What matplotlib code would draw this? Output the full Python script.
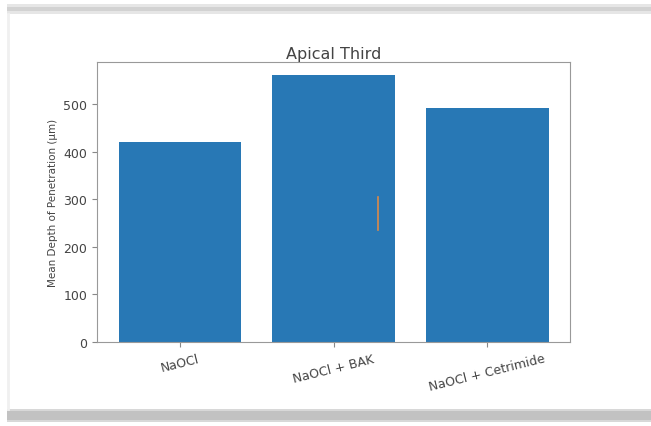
import matplotlib.pyplot as plt
from matplotlib.patches import Rectangle
from matplotlib.lines import Line2D

groups = ["NaOCl", "NaOCl + BAK", "NaOCl + Cetrimide"]
depth = [420, 561, 492]
# stray orange segment drawn over the middle bar
seg_x = [1.29, 1.29]
seg_y = [235, 306]

W, H = 651, 427
fig = plt.figure(figsize=(W/100, H/100), dpi=100)

def band(y0, y1, color):
    # y in pixels from the top
    fig.add_artist(Rectangle((7/W, 1 - y1/H), 1, (y1 - y0)/H, color=color,
                             transform=fig.transFigure, lw=0))

# grey screenshot frame
band(5, 15, "#e6e6e6")
band(8, 12, "#d2d2d2")
band(410, 423, "#d8d8d8")
band(412, 421, "#c2c2c2")
fig.add_artist(Line2D([8/W, 8/W], [1 - 410/H, 1 - 15/H], color="#f0f0f0", lw=2,
                      transform=fig.transFigure))

ax = fig.add_axes([97/W, (H-343)/H, 473/W, 280/H])
ax.bar(range(len(groups)), depth, color="#2878b5", width=0.8)
ax.plot(seg_x, seg_y, color="#d9894a", lw=1.2)

ax.set_xticks(range(len(groups)))
ax.set_xticklabels(groups, rotation=14, fontsize=9)
ax.set_yticks([0, 100, 200, 300, 400, 500])
ax.tick_params(colors="#888888", labelcolor="#444444", labelsize=9)
ax.set_ylabel("Mean Depth of Penetration (μm)", fontsize=7.5, color="#444444")
ax.set_title("Apical Third", fontsize=11.5, color="#444444", pad=3)
for s in ax.spines.values():
    s.set_color("#999999")

plt.savefig("out.png", dpi=100)
